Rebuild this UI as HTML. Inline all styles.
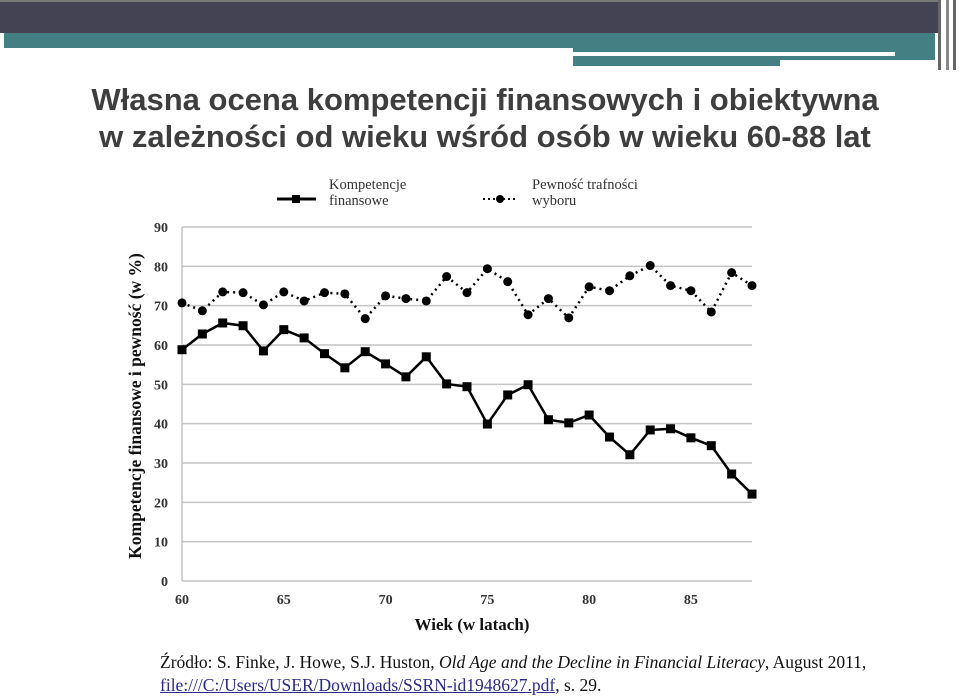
<!DOCTYPE html>
<html><head><meta charset="utf-8"><style>
html,body{margin:0;padding:0;background:#fff;}
body{width:960px;height:695px;position:relative;overflow:hidden;font-family:"Liberation Serif",serif;}
.abs{position:absolute;}
</style></head><body>
<div class="abs" style="left:0;top:0;width:940px;height:33px;background:#434354;border-top:2px solid #777;box-sizing:border-box"></div>
<div class="abs" style="left:4px;top:33px;width:931px;height:15px;background:#447f84"></div>
<div class="abs" style="left:573px;top:48px;width:362px;height:18px;background:#447f84"></div>
<div class="abs" style="left:573px;top:52px;width:322px;height:4px;background:#fff"></div>
<div class="abs" style="left:780px;top:60px;width:155px;height:6px;background:#fff"></div>
<div class="abs" style="left:938px;top:0;width:3px;height:70px;background:#666"></div>
<div class="abs" style="left:946px;top:0;width:3px;height:70px;background:#888"></div>
<div class="abs" style="left:953px;top:0;width:3px;height:70px;background:#666"></div>
<div class="abs" style="left:0;top:81px;width:970px;text-align:center;font-family:'Liberation Sans',sans-serif;font-weight:bold;font-size:31px;line-height:37px;color:#3e3e3e">Własna ocena kompetencji finansowych i obiektywna<br>w zależności od wieku wśród osób w wieku 60-88 lat</div>
<svg class="abs" style="left:0;top:0" width="960" height="695">
<g id="legend" font-family="Liberation Serif" font-size="14.5" fill="#333">
<line x1="277" y1="199" x2="316" y2="199" stroke="#000" stroke-width="3"/>
<rect x="292" y="195" width="8" height="8" fill="#000"/>
<text x="329" y="189">Kompetencje</text><text x="329" y="205">finansowe</text>
<line x1="483" y1="199" x2="518" y2="199" stroke="#000" stroke-width="2" stroke-dasharray="2,3"/>
<circle cx="500" cy="199" r="4" fill="#000"/>
<text x="532" y="189">Pewność trafności</text><text x="532" y="205">wyboru</text>
</g>
<g id="grid"></g><g id="axes"></g><g id="series"></g>
<text x="141" y="406" transform="rotate(-90 141 406)" text-anchor="middle" font-family="Liberation Serif" font-weight="bold" font-size="17.5" fill="#111">Kompetencje finansowe i pewność (w %)</text>
<text x="472" y="630" text-anchor="middle" font-family="Liberation Serif" font-weight="bold" font-size="17" fill="#111">Wiek  (w latach)</text>
</svg>
<div class="abs" style="left:160px;top:651px;font-size:17.5px;line-height:23px;color:#111;white-space:nowrap">Źródło:  S. Finke, J. Howe, S.J. Huston, <i>Old Age and the Decline in Financial Literacy</i>, August 2011,<br><span style="color:#2a2a8a;text-decoration:underline">file:///C:/Users/USER/Downloads/SSRN-id1948627.pdf</span>, s. 29.</div>
<script>
const ages=[60,61,62,63,64,65,66,67,68,69,70,71,72,73,74,75,76,77,78,79,80,81,82,83,84,85,86,87,88];
const kompetencje=[58.8,62.8,65.6,64.9,58.5,63.9,61.8,57.8,54.2,58.3,55.2,51.9,57.0,50.1,49.4,39.9,47.3,49.9,41.0,40.2,42.2,36.6,32.1,38.4,38.7,36.4,34.4,27.2,22.1];
const pewnosc=[70.7,68.7,73.5,73.3,70.2,73.5,71.2,73.3,73.0,66.7,72.5,71.8,71.2,77.4,73.3,79.4,76.1,67.7,71.8,66.9,74.8,73.8,77.6,80.2,75.1,73.8,68.4,78.4,75.1];
const yTicks=[0,10,20,30,40,50,60,70,80,90];
const xTicks=[60,65,70,75,80,85];
const NS="http://www.w3.org/2000/svg";
const X=v=>182+(v-60)*(570/28), Y=v=>581-v*(354/90);
function mk(t,a,p){const e=document.createElementNS(NS,t);for(const k in a)e.setAttribute(k,a[k]);document.getElementById(p).appendChild(e);return e;}
yTicks.forEach(t=>{
 const g=mk('line',{x1:182,x2:752,y1:Y(t),y2:Y(t),stroke:'#c4c4c4','stroke-width':1.5},'grid');
 
 
 const l=mk('text',{x:168,y:Y(t)+5,'text-anchor':'end','font-family':'Liberation Serif','font-size':14,'font-weight':'bold',fill:'#333'},'axes');
 l.textContent=t;
 
 
});
mk('line',{x1:182,x2:182,y1:Y(90),y2:Y(0),stroke:'#c4c4c4','stroke-width':1.5},'grid');
xTicks.forEach(t=>{
 const l=mk('text',{x:X(t),y:604,'text-anchor':'middle','font-family':'Liberation Serif','font-size':14,'font-weight':'bold',fill:'#333'},'axes');
 l.textContent=t;
 
 
});
const p2=mk('polyline',{points:ages.map((a,i)=>X(a)+','+Y(pewnosc[i])).join(' '),fill:'none',stroke:'#000','stroke-width':2.5,'stroke-dasharray':'2,4'},'series');


const p1=mk('polyline',{points:ages.map((a,i)=>X(a)+','+Y(kompetencje[i])).join(' '),fill:'none',stroke:'#000','stroke-width':2.5},'series');


ages.forEach((a,i)=>{
 const r=mk('rect',{x:X(a)-4.5,y:Y(kompetencje[i])-4.5,width:9,height:9,fill:'#000'},'series');
 
 
 const c=mk('circle',{cx:X(a),cy:Y(pewnosc[i]),r:4.5,fill:'#000'},'series');
 
 
});
</script>
</body></html>
